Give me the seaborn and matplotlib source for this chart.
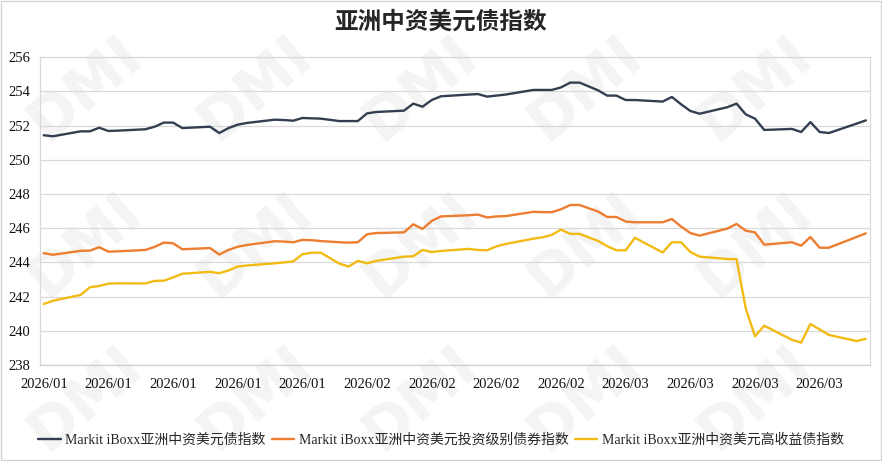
import numpy as np
import pandas as pd
import matplotlib
matplotlib.use("Agg")
import matplotlib.pyplot as plt
import matplotlib.dates as mdates
from matplotlib.lines import Line2D
from matplotlib.patches import Rectangle
import seaborn as sns

# ---------------- data ----------------
start_date = "2026-01-01"
day_offsets = [0, 1, 4, 5, 6, 7, 8, 11, 12, 13, 14, 15, 18, 19, 20, 21, 22,
               25, 26, 27, 28, 29, 30, 32, 33, 34, 35, 36, 39, 40, 41, 42, 43,
               46, 47, 48, 49, 50, 53, 54, 55, 56, 57, 58, 60, 61, 62, 63, 64,
               67, 68, 69, 70, 71, 74, 75, 76, 77, 78, 81, 82, 83, 84, 85, 88, 89]

series_names = ["Markit iBoxx亚洲中资美元债指数",
                "Markit iBoxx亚洲中资美元投资级别债券指数",
                "Markit iBoxx亚洲中资美元高收益债指数"]

overall = [251.44, 251.38, 251.67, 251.67, 251.88, 251.69, 251.71,
           251.79, 251.94, 252.18, 252.18, 251.86,
           251.94, 251.57, 251.86, 252.06, 252.16,
           252.35, 252.33, 252.29, 252.45, 252.43, 252.41,
           252.27, 252.27, 252.27, 252.72, 252.80,
           252.88, 253.29, 253.11, 253.50, 253.72,
           253.82, 253.85, 253.70, 253.76, 253.82,
           254.09, 254.09, 254.09, 254.24, 254.52, 254.52,
           254.07, 253.76, 253.76, 253.50, 253.50,
           253.41, 253.68, 253.25, 252.86, 252.70,
           253.08, 253.29, 252.66, 252.41, 251.75,
           251.81, 251.63, 252.21, 251.63, 251.57,
           252.12, 252.31]

inv_grade = [244.54, 244.45, 244.68, 244.69, 244.89, 244.63, 244.65,
             244.73, 244.91, 245.16, 245.12, 244.77,
             244.84, 244.46, 244.73, 244.92, 245.02,
             245.24, 245.22, 245.18, 245.32, 245.30, 245.25,
             245.18, 245.16, 245.18, 245.65, 245.72,
             245.76, 246.23, 245.96, 246.43, 246.69,
             246.76, 246.80, 246.63, 246.69, 246.71,
             246.96, 246.94, 246.94, 247.11, 247.36, 247.36,
             246.98, 246.66, 246.66, 246.39, 246.35,
             246.35, 246.54, 246.10, 245.72, 245.57,
             245.98, 246.25, 245.86, 245.76, 245.04,
             245.18, 244.98, 245.49, 244.86, 244.86,
             245.49, 245.70]

high_yield = [241.57, 241.76, 242.10, 242.55, 242.62, 242.76, 242.78,
              242.77, 242.92, 242.93, 243.12, 243.34,
              243.45, 243.37, 243.53, 243.76, 243.82,
              243.95, 244.00, 244.06, 244.48, 244.57, 244.57,
              243.93, 243.76, 244.09, 243.95, 244.09,
              244.34, 244.36, 244.73, 244.61, 244.67,
              244.79, 244.73, 244.71, 244.94, 245.08,
              245.39, 245.47, 245.61, 245.92, 245.67, 245.67,
              245.26, 244.95, 244.71, 244.71, 245.44,
              244.58, 245.18, 245.18, 244.61, 244.34,
              244.20, 244.19, 241.30, 239.68, 240.30,
              239.47, 239.31, 240.40, 240.08, 239.76,
              239.40, 239.53]

colors = ["#333f50", "#ed7d31", "#f2bb14"]

# ---------------- build table ----------------
start = pd.Timestamp(start_date)
dates = start + pd.to_timedelta(day_offsets, unit="D")
frames = []
for name, vals in zip(series_names, [overall, inv_grade, high_yield]):
    frames.append(pd.DataFrame({"date": dates, "value": vals, "series": name}))
df = pd.concat(frames, ignore_index=True)

# ---------------- style ----------------
sns.set_style("white")
plt.rcParams["font.family"] = ["Liberation Serif", "Noto Sans CJK SC"]

W, H = 882, 461
fig = plt.figure(figsize=(W / 100, H / 100), dpi=100)
fig.patch.set_facecolor("white")

# watermark
for cx in [85, 255, 420, 585, 755]:
    for cy in [88, 245, 398]:
        fig.text(cx / W, 1 - cy / H, "DMI", rotation=40, fontsize=42,
                 fontweight="bold", color="#f4f4f4", ha="center", va="center",
                 family="DejaVu Sans", zorder=-5)

# outer frame
fig.add_artist(Rectangle((0.0015, 0.003), 0.997, 0.994, transform=fig.transFigure,
                         fill=False, edgecolor="#d4d4d4", linewidth=1.0))

ax = fig.add_axes([40 / W, 1 - 365 / H, 830 / W, (365 - 57.3) / H])
ax.set_facecolor("none")

sns.lineplot(data=df, x="date", y="value", hue="series",
             palette=dict(zip(series_names, colors)), linewidth=1.7,
             ax=ax, legend=False, sort=True, estimator=None)

ax.set_ylim(238, 256)
ax.set_yticks(np.arange(238, 257, 2))
ax.set_xlim(start - pd.Timedelta(days=0.41), start + pd.Timedelta(days=89.45))
ax.set_xticks(pd.date_range(start, periods=13, freq="7D"))
ax.xaxis.set_major_formatter(mdates.DateFormatter("%Y/%m"))

ax.grid(axis="y", color="#d9d9d9", linewidth=0.9)
ax.grid(axis="x", visible=False)
for side in ["left", "right", "top", "bottom"]:
    ax.spines[side].set_visible(True)
    ax.spines[side].set_color("#d9d9d9")
    ax.spines[side].set_linewidth(0.9)
ax.spines["bottom"].set_color("#cfcfcf")

ax.tick_params(axis="y", length=0, pad=7, labelsize=10.5, labelcolor="#111111")
ax.tick_params(axis="x", length=4, width=0.9, color="#cfcfcf", pad=5,
               labelsize=10.5, labelcolor="#111111", direction="out")
ax.set_xlabel("")
ax.set_ylabel("")

fig.text(0.5, 1 - 22 / H, "亚洲中资美元债指数", ha="center", va="center",
         fontsize=17, fontweight="bold", family=["Noto Sans CJK SC"])

handles = [Line2D([0], [0], color=c, linewidth=1.7) for c in colors]
fig.legend(handles, series_names, loc="center", bbox_to_anchor=(0.5, 1 - 440 / H),
           ncol=3, frameon=False, fontsize=10, handlelength=1.6,
           handletextpad=0.3, columnspacing=0.5)

fig.savefig("out.png", dpi=100)
